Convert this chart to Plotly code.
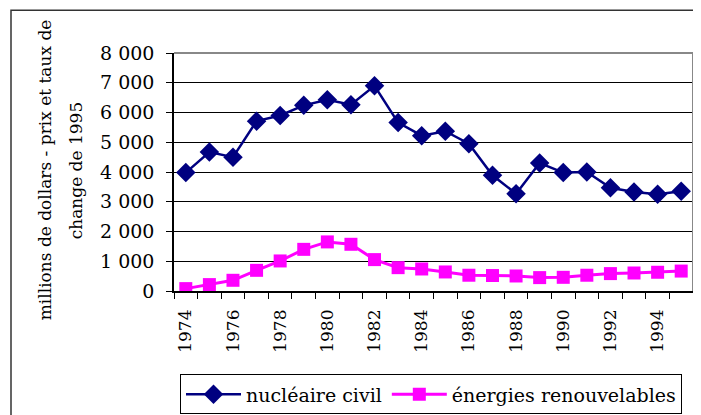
import plotly.graph_objects as go

years = list(range(1974, 1996))
nucleaire = [3980, 4670, 4500, 5710, 5900, 6240, 6430, 6260, 6900, 5660, 5220, 5370,
             4950, 3890, 3270, 4300, 3980, 4000, 3470, 3330, 3250, 3350]
renouvelables = [80, 215, 360, 695, 1010, 1400, 1650, 1570, 1055, 785, 740, 640,
                 530, 520, 505, 450, 460, 530, 585, 605, 630, 670]
xtick_years = list(range(1974, 1996, 2))
ytick_vals = list(range(0, 8001, 1000))
ytick_text = ["0", "1 000", "2 000", "3 000", "4 000", "5 000", "6 000", "7 000", "8 000"]

FONT = "DejaVu Serif"

# page body has an 8px margin: figure sits at (8, 8) in the window
OFF = 8
W, H = 701 - OFF, 415 - OFF
PL, PR, PT, PB = 174 - OFF, 693 - OFF, 52.7 - OFF, 290.7 - OFF
PW, PH = PR - PL, PB - PT


def px(x):
    return (x - OFF - PL) / PW


def py(y):
    return (PB - (y - OFF)) / PH


fig = go.Figure()
fig.add_trace(go.Scatter(
    x=years, y=nucleaire, name="nucléaire civil", mode="lines+markers",
    line=dict(color="#000080", width=2.5),
    marker=dict(symbol="diamond", size=15, color="#000080"),
))
fig.add_trace(go.Scatter(
    x=years, y=renouvelables, name="énergies renouvelables", mode="lines+markers",
    line=dict(color="#FF00FF", width=3),
    marker=dict(symbol="square", size=13, color="#FF00FF"),
))

fig.update_layout(
    width=W, height=H,
    margin=dict(l=PL, r=W - PR, t=PT, b=H - PB, autoexpand=False),
    paper_bgcolor="white", plot_bgcolor="white",
    font=dict(family=FONT, size=18, color="black"),
    showlegend=True,
    legend=dict(
        orientation="h", x=px(180), y=py(374), xanchor="left", yanchor="top",
        bordercolor="black", borderwidth=1, bgcolor="white",
        font=dict(family=FONT, size=19, color="black"),
        itemwidth=55,
    ),
    xaxis=dict(
        range=[1973.5, 1995.5], tickmode="array", tickvals=xtick_years,
        ticktext=[str(y) for y in xtick_years], tickangle=-90, ticks="",
        showgrid=False, zeroline=False, showline=True, linecolor="black", linewidth=1.5,
        tickfont=dict(family=FONT, size=17, color="black"),
        minor=dict(tickmode="array", tickvals=[y + 0.5 for y in range(1973, 1996)],
                   ticks="outside", ticklen=6, tickcolor="black", tickwidth=1, showgrid=False),
        ticklabelstandoff=10,
    ),
    yaxis=dict(
        range=[0, 8000], tickmode="array", tickvals=ytick_vals, ticktext=ytick_text,
        ticks="outside", ticklen=6, tickcolor="black",
        showgrid=True, gridcolor="black", gridwidth=1, zeroline=False,
        showline=True, linecolor="black", linewidth=1.5,
        tickfont=dict(family=FONT, size=19, color="black"),
        ticklabelstandoff=8,
    ),
    shapes=[
        dict(type="line", xref="paper", yref="paper", x0=0, x1=1, y0=1, y1=1,
             line=dict(color="#888888", width=2)),
        dict(type="line", xref="paper", yref="paper", x0=1, x1=1, y0=0, y1=1,
             line=dict(color="#888888", width=2)),
        dict(type="rect", xref="paper", yref="paper",
             x0=px(11), x1=px(720), y0=py(440), y1=py(10),
             line=dict(color="#333333", width=1.5), layer="below"),
    ],
    annotations=[
        dict(text="millions de dollars - prix et taux de", xref="paper", yref="paper",
             x=px(45), y=py(170), xanchor="center", yanchor="middle",
             textangle=-90, showarrow=False, font=dict(family=FONT, size=17, color="black")),
        dict(text="change de 1995", xref="paper", yref="paper",
             x=px(76), y=py(170), xanchor="center", yanchor="middle",
             textangle=-90, showarrow=False, font=dict(family=FONT, size=17, color="black")),
    ],
)

fig.write_html("out.html")
